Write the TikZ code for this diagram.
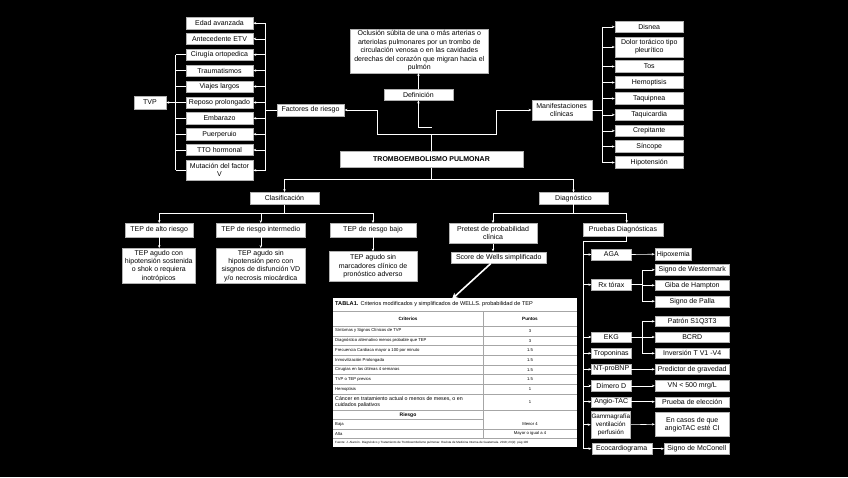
\documentclass[tikz,border=0pt]{standalone}
\usepackage{fontspec}
\setmainfont{Liberation Sans}
\usetikzlibrary{arrows.meta,calc}
\tikzset{
 bx/.style={draw=gray!60, line width=0.4pt, fill=white, text=black, align=center, inner sep=0.5pt, font=\fontsize{7}{8.2}\selectfont},
 ln/.style={draw=white, line width=0.6pt},
 arr/.style={ln, -{Stealth[length=3pt,width=2.4pt]}},
 tb/.style={font=\fontsize{4.2}{4.9}\selectfont, text=black, inner sep=0pt},
 tline/.style={draw=gray!70, line width=0.3pt},
}
\newcommand{\bxn}[6]{\node[bx, minimum width=#4pt, minimum height=#5pt] (#1) at (#2,#3) {#6};}
\begin{document}
\begin{tikzpicture}[x=1pt,y=-1pt]
\fill[black] (0,0) rectangle (848,477);
\useasboundingbox (0,0) rectangle (848,477);

% risk factors
\bxn{f1}{219.5}{23.2}{67}{12}{Edad avanzada}
\bxn{f2}{219.5}{38.8}{67}{11}{Antecedente ETV}
\bxn{f3}{219.5}{54.7}{67}{11}{Cirugía ortopedica}
\bxn{f4}{219.5}{70.5}{67}{11}{Traumatismos}
\bxn{f5}{219.5}{86.5}{67}{11}{Viajes largos}
\bxn{f6}{219.5}{102.5}{67}{11.6}{Reposo prolongado}
\bxn{f7}{219.5}{118.3}{67}{11.3}{Embarazo}
\bxn{f8}{219.5}{134.2}{67}{11.6}{Puerperuio}
\bxn{f9}{219.5}{150}{67}{11.3}{TTO hormonal}
\bxn{f10}{219.5}{170.3}{67}{19.3}{Mutación del factor\\V}
\bxn{tvp}{150}{102.5}{32}{12.4}{TVP}
\bxn{fr}{310.5}{110}{67.6}{12}{Factores de riesgo}

\coordinate (frbus) at (265.7,110);
\coordinate (tvpbus) at (175.7,102.5);
\draw[ln] (frbus |- f1.east) -- (frbus |- f10.east);
\draw[ln] (fr.west) -- (frbus);
\foreach \i in {1,...,10} {\draw[arr] (frbus |- f\i.east) -- (f\i.east);}
\draw[ln] (tvpbus |- f3.west) -- (tvpbus |- f10.west);
\foreach \i in {3,...,10} {\draw[ln] (f\i.west) -- (tvpbus |- f\i.west);}
\draw[arr] (tvpbus) -- (tvp.east);

% top centre
\node[bx, minimum width=137.3pt, minimum height=43.4pt, font=\fontsize{7}{8.5}\selectfont] (dtext) at (419.3,51) {Oclusión súbita de una o más arterias o\\arteriolas pulmonares por un trombo de\\circulación venosa o en las cavidades\\derechas del corazón que migran hacia el\\pulmón};
\bxn{def}{418.4}{94.5}{68.7}{11.3}{Definición}
\node[bx, minimum width=182.7pt, minimum height=15.7pt, font=\bfseries\fontsize{7}{8}\selectfont] (tep) at (431.5,159.5) {TROMBOEMBOLISMO PULMONAR};
\bxn{mc}{561.7}{110}{60}{20}{Manifestaciones\\clínicas}

\coordinate (tj) at (431.5,134.3);
\coordinate (tk) at (431.5,127.3);
\coordinate (lc) at (377.7,110);
\coordinate (rc) at (496.7,110);
\draw[ln] (tep.north) -- (tj);
\draw[arr] (tj) -| (lc) -- (fr.east);
\draw[arr] (tj) -| (rc) -- (mc.west);
\draw[arr] (tk) -| (def.south);
\draw[arr] (def.north) -- (def.north |- dtext.south);

% symptoms
\bxn{s1}{649.2}{26.8}{68.3}{11.7}{Disnea}
\bxn{s2}{649.2}{47}{68.3}{19.4}{Dolor torácico tipo\\pleurítico}
\bxn{s3}{649.2}{66.5}{68.3}{11.7}{Tos}
\bxn{s4}{649.2}{82.5}{68.3}{11.7}{Hemoptisis}
\bxn{s5}{649.2}{98.5}{68.3}{11.7}{Taquipnea}
\bxn{s6}{649.2}{114.8}{68.3}{11.7}{Taquicardia}
\bxn{s7}{649.2}{130.8}{68.3}{11.7}{Crepitante}
\bxn{s8}{649.2}{146.5}{68.3}{11.7}{Síncope}
\bxn{s9}{649.2}{162.5}{68.3}{11.7}{Hipotensión}
\coordinate (mbus) at (602.3,110);
\draw[ln] (mc.east) -- (mbus);
\draw[ln] (mbus |- s1.west) -- (mbus |- s9.west);
\foreach \i in {1,...,9} {\draw[arr] (mbus |- s\i.west) -- (s\i.west);}

% classification
\bxn{clas}{284.5}{198.3}{69}{12}{Clasificación}
\bxn{diag}{573.5}{198.3}{68.4}{11.3}{Diagnóstico}
\coordinate (bj) at (431.5,179.3);
\draw[ln] (tep.south) -- (bj);
\draw[arr] (bj) -| (clas.north);
\draw[arr] (bj) -| (diag.north);

\bxn{t1}{159.2}{230}{68.3}{13.4}{TEP de alto riesgo}
\bxn{t2}{260.8}{230}{88.3}{13.4}{TEP de riesgo intermedio}
\bxn{t3}{373}{230}{86}{13.4}{TEP de riesgo bajo}
\node[bx, minimum width=72.3pt, minimum height=35pt, font=\fontsize{7}{8.4}\selectfont] (d1) at (158.8,265.8) {TEP agudo con\\hipotensión sostenida\\o shok o requiera\\inotrópicos};
\node[bx, minimum width=88.3pt, minimum height=35pt, font=\fontsize{7}{8.4}\selectfont] (d2) at (260.8,265.8) {TEP agudo sin\\hipotensión pero con\\sisgnos de disfunción VD\\y/o necrosis miocárdica};
\node[bx, minimum width=87.4pt, minimum height=29.3pt, font=\fontsize{7}{8.4}\selectfont] (d3) at (373,266.3) {TEP agudo sin\\marcadores clínico de\\pronóstico adverso};
\coordinate (cj) at (284.5,213.3);
\draw[ln] (clas.south) -- (cj);
\draw[arr] (cj) -| (t1.north);
\draw[arr] (cj) -| (t2.north);
\draw[arr] (cj) -| (t3.north);
\foreach \i in {1,2,3} {\draw[arr] (t\i.south) -- (t\i.south |- d\i.north);}

% diagnosis
\bxn{pre}{493}{233.3}{87.4}{20}{Pretest de probabilidad\\clínica}
\bxn{pru}{623}{229.5}{79.4}{12.4}{Pruebas Diagnósticas}
\bxn{sc}{498.8}{257.5}{94.3}{11.6}{Score de Wells simplificado}
\coordinate (dj) at (573.5,213.3);
\draw[ln] (diag.south) -- (dj);
\draw[arr] (dj) -| (pre.north);
\draw[arr] (dj) -| ([xshift=3.7pt]pru.north);
\draw[arr] (pre.south) -- (pre.south |- sc.north);

% tests
\bxn{aga}{611.3}{254.5}{39.3}{11}{AGA}
\bxn{rx}{611.3}{284.7}{39.3}{10.7}{Rx tórax}
\bxn{ekg}{611.3}{337}{39.3}{10.6}{EKG}
\bxn{tro}{611.3}{353.3}{39.3}{10}{Troponinas}
\bxn{nt}{611.3}{369.3}{39.3}{10}{NT-proBNP}
\bxn{dim}{611.3}{385.8}{39.3}{10.3}{Dímero D}
\bxn{ang}{611.3}{401.7}{39.3}{10}{Angio-TAC}
\node[bx, minimum width=39.7pt, minimum height=27.3pt, font=\fontsize{6.3}{8}\selectfont] (gam) at (610.8,424.7) {Gammagrafía\\ventilación\\perfusión};
\bxn{eco}{621.7}{448.7}{60}{10.7}{Ecocardiograma}
\coordinate (pb) at (583.3,241.7);
\draw[ln] ([xshift=3.7pt]pru.south) |- (pb) -- (pb |- eco.west);
\foreach \n in {aga,rx,ekg,tro,nt,dim,ang,gam,eco} {\draw[arr] (pb |- \n.west) -- (\n.west);}

% results
\bxn{hip}{673.3}{254.2}{36.7}{11.7}{Hipoxemia}
\bxn{r1}{692.2}{269.8}{74.3}{11.7}{Signo de Westermark}
\bxn{r2}{692.2}{285.3}{74.3}{10.7}{Giba de Hampton}
\bxn{r3}{692.2}{301.2}{74.3}{11}{Signo de Palla}
\bxn{e1}{692.2}{321.3}{74.3}{10.7}{Patrón S1Q3T3}
\bxn{e2}{692.2}{337}{74.3}{10.6}{BCRD}
\bxn{e3}{692.2}{353.3}{74.3}{10}{Inversión T V1 -V4}
\bxn{pg}{692.2}{369.3}{74.3}{10}{Predictor de gravedad}
\bxn{vn}{692.2}{385.8}{74.3}{10.3}{VN < 500 mrg/L}
\bxn{pe}{692.2}{401.7}{74.3}{10}{Prueba de elección}
\bxn{ec}{692.2}{424.3}{74.3}{23.3}{En casos de que\\angioTAC esté CI}
\bxn{mcn}{696.8}{448.7}{65}{10.7}{Signo de McConell}

\draw[arr] (aga.east) -- (hip.west);
\coordinate (rxb) at (642.3,284.7);
\draw[ln] (rx.east) -- (rxb);
\draw[ln] (rxb |- r1.west) -- (rxb |- r3.west);
\foreach \n in {r1,r2,r3} {\draw[arr] (rxb |- \n.west) -- (\n.west);}
\coordinate (ekb) at (642.3,337);
\draw[ln] (ekg.east) -- (ekb);
\draw[ln] (ekb |- e1.west) -- (ekb |- e3.west);
\foreach \n in {e1,e2,e3} {\draw[arr] (ekb |- \n.west) -- (\n.west);}
\draw[arr] (nt.east) -- (pg.west);
\draw[arr] (dim.east) -- (vn.west);
\draw[arr] (ang.east) -- (pe.west);
\draw[arr] (gam.east) -- (ec.west);
\draw[arr] (eco.east) -- (mcn.west);

% table
\node[fill=white, minimum width=244pt, minimum height=149pt, inner sep=0pt] (tbl) at (455,372.5) {};
\coordinate (tarr) at (452,299);
\draw[white, line width=1.6pt, -{Stealth[length=6pt,width=6pt]}] ([xshift=-8pt]sc.south) -- (tarr);
\foreach \yy in {311.5,326,335.7,345.4,355.1,364.8,374.5,384.2,393.9,410,429,438.3} {\draw[tline] (333,\yy) -- (577,\yy);}
\draw[tline] (333,419.5) -- (482.7,419.5);
\draw[tline] (482.7,311.5) -- (482.7,438.3);
\node[tb, anchor=west, font=\fontsize{5.6}{6.2}\selectfont] (ttl) at (335,304.5) {\textbf{TABLA1.} Criterios modificados y simplificados de WELLS. probabilidad de TEP};
\node[tb, font=\bfseries\fontsize{4.6}{5.2}\selectfont] (hc) at (408,319) {Criterios};
\node[tb, font=\bfseries\fontsize{4.6}{5.2}\selectfont] (hp) at (530,319) {Puntos};
\node[tb, anchor=west] (c1) at (335,330.85) {Síntomas y Signos Clínicos de TVP};
\node[tb, anchor=west] (c2) at (335,340.55) {Diagnóstico alternativo menos probable que TEP};
\node[tb, anchor=west] (c3) at (335,350.25) {Frecuencia Cardiaca mayor a 100 por minuto};
\node[tb, anchor=west] (c4) at (335,359.95) {Inmovilización Prolongada};
\node[tb, anchor=west] (c5) at (335,369.65) {Cirugías en las últimas 4 semanas};
\node[tb, anchor=west] (c6) at (335,379.35) {TVP o TEP previos};
\node[tb, anchor=west] (c7) at (335,389.05) {Hemoptisis};
\node[tb, anchor=west, align=left, font=\fontsize{5.3}{5.9}\selectfont] (c8) at (335,402) {Cáncer en tratamiento actual o menos de meses, o en\\cuidados paliativos};
\node[tb, font=\bfseries\fontsize{5}{5.6}\selectfont] (c9) at (408,414.8) {Riesgo};
\node[tb, anchor=west] (c10) at (335,424.3) {Baja};
\node[tb, anchor=west] (c11) at (335,433.7) {Alta};
\node[tb] (p1) at (530,330.85) {3};
\node[tb] (p2) at (530,340.55) {3};
\node[tb] (p3) at (530,350.25) {1.5};
\node[tb] (p4) at (530,359.95) {1.5};
\node[tb] (p5) at (530,369.65) {1.5};
\node[tb] (p6) at (530,379.35) {1.5};
\node[tb] (p7) at (530,389.05) {1};
\node[tb] (p8) at (530,402) {1};
\node[tb] (p10) at (530,424.3) {Menor 4};
\node[tb] (p11) at (530,433.7) {Mayor o igual a 4};
\node[tb, anchor=west, font=\fontsize{3}{3.4}\selectfont] (src) at (335,442.7) {Fuente: J. Alarcón. Diagnóstico y Tratamiento de Tromboembolismo pulmonar. Revista de Medicina Interna de Guatemala. 2018; 23(2): pág 100};
\end{tikzpicture}
\end{document}
